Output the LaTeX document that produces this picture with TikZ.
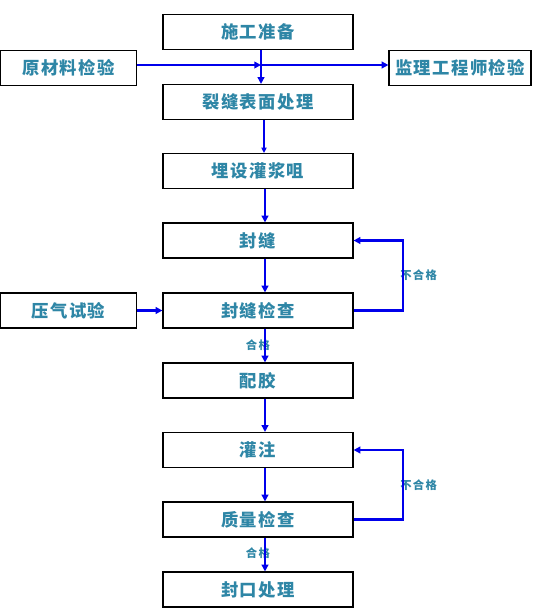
\documentclass[tikz,border=0pt]{standalone}
\usepackage{fontspec}
\setmainfont{Noto Sans CJK SC}
\usetikzlibrary{arrows.meta}
\definecolor{txt}{RGB}{46,134,166}
\definecolor{arblue}{RGB}{0,0,235}
\begin{document}
\begin{tikzpicture}[x=0.75pt,y=-0.75pt,
  box/.style={draw=black, line width=0.9pt, fill=white, inner sep=0pt,
    minimum height=26.25pt,
    font=\fontsize{13}{15}\bfseries\selectfont\addfontfeature{LetterSpace=8}, text=txt},
  mainbox/.style={box, minimum width=142.5pt},
  lbl/.style={font=\fontsize{8.5}{10}\bfseries\selectfont\addfontfeature{LetterSpace=12}, text=txt, inner sep=0pt},
  flow/.style={draw=arblue, line width=1.8pt, -{Triangle[length=5pt,width=5pt]}},
  thinflow/.style={draw=arblue, line width=0.8pt, -{Triangle[length=4pt,width=4pt]}}]
\useasboundingbox (0,0) rectangle (537,612);
% main column
\node[mainbox] (a) at (258,32) {施工准备};
\node[mainbox] (b) at (258,102) {裂缝表面处理};
\node[mainbox] (c) at (258,171) {埋设灌浆咀};
\node[mainbox] (d) at (258,240.5) {封缝};
\node[mainbox] (e) at (258,310.5) {封缝检查};
\node[mainbox] (f) at (258,380.5) {配胶};
\node[mainbox] (g) at (258,450) {灌注};
\node[mainbox] (h) at (258,519.5) {质量检查};
\node[mainbox] (k) at (258,589.5) {封口处理};
% side boxes
\node[box, minimum width=102pt] (m) at (68.5,68) {原材料检验};
\node[box, minimum width=106.5pt] (s) at (460,68) {监理工程师检验};
\node[box, minimum width=102pt] (p) at (68.5,310.5) {压气试验};
% labels
\node[lbl, anchor=west] (l1) at (400,275) {不合格};
\node[lbl, anchor=west] (l2) at (400,485) {不合格};
\node[lbl] (l3) at (258,345) {合格};
\node[lbl] (l4) at (258,553) {合格};
% helper coordinates
\coordinate (j) at (261,65);
\coordinate (col) at (265,0);
\coordinate (col1) at (264,0);
\coordinate (fb1) at (403,0);
% connectors
\draw[flow] (a.south -| j) -- (b.north -| j);
\draw[flow] (m.east |- j) -- (j);
\draw[flow] (j) -- (s.west |- j);
\draw[thinflow] (b.south -| col1) -- (c.north -| col1);
\draw[flow] (c.south -| col) -- (d.north -| col);
\draw[flow] (d.south -| col) -- (e.north -| col);
\draw[flow] (e.south -| col) -- (f.north -| col);
\draw[flow] (f.south -| col) -- (g.north -| col);
\draw[flow] (g.south -| col) -- (h.north -| col);
\draw[flow] (h.south -| col) -- (k.north -| col);
\draw[flow] (p.east) -- (e.west);
\draw[flow] (e.east) -- (e.east -| fb1) |- (d.east);
\draw[flow] (h.east) -- (h.east -| fb1) |- (g.east);
\end{tikzpicture}
\end{document}
